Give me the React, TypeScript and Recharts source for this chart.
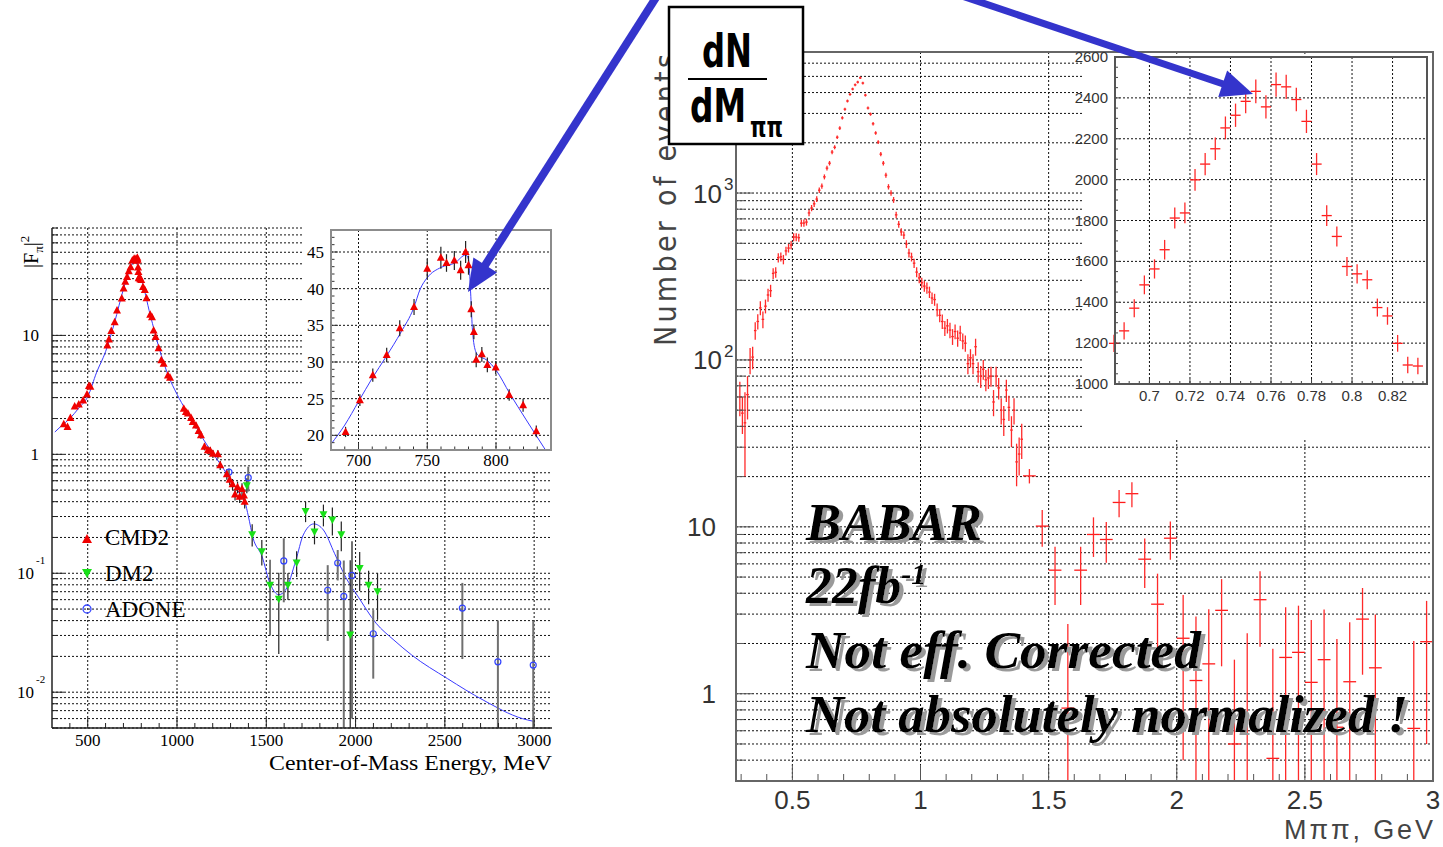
import React from "react";
import { ComposedChart, CartesianGrid, XAxis, YAxis, Line, Scatter, ErrorBar } from "recharts";

const SERIF = "'Liberation Serif', 'Times New Roman', serif";
const SANS = "'Liberation Sans', Arial, sans-serif";
const NARROW = "'Liberation Sans Narrow', 'DejaVu Sans Condensed', 'Liberation Sans', sans-serif";

// ---------- left panel: |F_pi|^2 vs energy (MeV) ----------
const cmd2E = [366, 387, 403, 427, 450, 474, 496, 507, 515, 610, 619, 632, 651, 664, 690.6, 701, 710.4, 720.5, 730, 740.4, 750, 759.9, 764, 769.7, 774.3, 777.9, 780, 782, 783.9, 785.6, 789.7, 793.7, 799.8, 809.6, 819.7, 829.3, 850, 860, 869, 880, 897, 912, 925, 949, 961, 1038, 1050, 1061, 1079, 1088, 1106, 1121, 1134, 1154, 1173, 1186, 1201, 1229, 1242, 1279, 1295, 1311, 1325, 1339, 1351, 1364, 1375, 1379];
const cmd2F = [1.79, 1.7, 2.02, 2.53, 2.62, 2.84, 3.19, 3.75, 3.7, 8.24, 9.25, 10.9, 12.9, 16.2, 20.46, 24.8, 28.2, 30.95, 34.6, 37.5, 42.7, 44.2, 43.5, 43.85, 42.5, 45.0, 43.2, 37.2, 34.1, 30.3, 31.05, 29.6, 29.25, 25.5, 24.1, 20.55, 14.9, 14.2, 11.0, 9.7, 7.8, 6.17, 5.78, 4.61, 4.4, 2.42, 2.27, 2.2, 2.02, 1.87, 1.75, 1.57, 1.45, 1.16, 1.08, 1.07, 1.01, 1.0, 0.81, 0.68, 0.61, 0.56, 0.46, 0.53, 0.44, 0.51, 0.45, 0.4];
const cmd2Err = [0.06, 0.06, 0.07, 0.08, 0.08, 0.09, 0.1, 0.12, 0.12, 0.3, 0.3, 0.35, 0.4, 0.5, 0.7, 0.8, 0.9, 1.0, 1.1, 1.1, 1.3, 1.5, 1.2, 1.3, 1.3, 1.5, 1.3, 1.1, 1.0, 1.0, 1.0, 1.0, 0.9, 0.8, 0.9, 0.8, 0.5, 0.5, 0.4, 0.35, 0.3, 0.25, 0.25, 0.2, 0.2, 0.1, 0.1, 0.1, 0.1, 0.1, 0.1, 0.1, 0.1, 0.08, 0.08, 0.08, 0.08, 0.08, 0.07, 0.07, 0.06, 0.06, 0.05, 0.06, 0.05, 0.06, 0.05, 0.05];

const dm2E = [1391, 1421, 1475, 1521, 1570, 1621, 1670, 1720, 1770, 1820, 1870, 1920, 1970, 2023, 2073, 2123];
const dm2F = [0.55, 0.213, 0.153, 0.08, 0.061, 0.08, 0.123, 0.334, 0.225, 0.313, 0.283, 0.213, 0.0305, 0.111, 0.08, 0.0706];
const dm2Err = [0.08, 0.045, 0.037, 0.05, 0.04, 0.02, 0.03, 0.065, 0.05, 0.065, 0.075, 0.06, 0.098, 0.04, 0.025, 0.03];

const adoneE = [1291, 1399, 1598, 1844, 1900, 1934, 1980, 2099, 2598, 2797, 2995];
const adoneF = [0.71, 0.637, 0.127, 0.072, 0.122, 0.064, 0.096, 0.031, 0.051, 0.018, 0.0169];
const adoneErr = [0.05, 0.15, 0.07, 0.045, 0.035, 0.064, 0.09, 0.018, 0.032, 0.022, 0.023];

const fitE = [316, 350, 400, 450, 500, 550, 600, 650, 700, 740, 760, 778, 782, 788, 800, 850, 900, 950, 1000, 1050, 1100, 1150, 1200, 1250, 1300, 1350, 1380, 1400, 1425, 1475, 1521, 1570, 1607, 1666, 1707, 1766, 1820, 1883, 1944, 2016, 2115, 2215, 2315, 2515, 2714, 2934, 2994];
const fitF = [1.54, 1.72, 2.0, 2.45, 3.05, 4.9, 7.3, 12.8, 24.5, 37.3, 42.9, 44.6, 35, 30.9, 28.9, 14.9, 7.8, 4.65, 3.2, 2.35, 1.78, 1.32, 1.02, 0.8, 0.61, 0.47, 0.4, 0.3, 0.2, 0.14, 0.082, 0.066, 0.072, 0.129, 0.21, 0.26, 0.231, 0.146, 0.093, 0.063, 0.038, 0.0274, 0.0205, 0.013, 0.0086, 0.006, 0.0057];

// fit curve as read inside the rho-omega inset
const fitZoomE = [680, 690, 700, 710, 720, 731, 740, 745, 750, 760, 770, 778, 780, 781.7, 782.9, 785.3, 787.2, 793, 800, 810, 822, 836];
const fitZoomF = [18.8, 21.4, 24.6, 27.8, 30.7, 34.1, 37.3, 40.0, 41.5, 42.9, 43.5, 44.6, 44.0, 38.9, 34.3, 31.4, 30.9, 30.3, 28.9, 25.7, 22.1, 18.0];

const leftXTicks = [400, 500, 600, 700, 800, 900, 1000, 1100, 1200, 1300, 1400, 1500, 1600, 1700, 1800, 1900, 2000, 2100, 2200, 2300, 2400, 2500, 2600, 2700, 2800, 2900, 3000];
const leftXLabels = [{ v: 500, t: "500" }, { v: 1000, t: "1000" }, { v: 1500, t: "1500" }, { v: 2000, t: "2000" }, { v: 2500, t: "2500" }, { v: 3000, t: "3000" }];
const leftYTicks = [0.005, 0.006, 0.007, 0.008, 0.009, 0.01, 0.02, 0.03, 0.04, 0.05, 0.06, 0.07, 0.08, 0.09, 0.1, 0.2, 0.3, 0.4, 0.5, 0.6, 0.7, 0.8, 0.9, 1, 2, 3, 4, 5, 6, 7, 8, 9, 10, 20, 30, 40, 50, 60, 70, 80];
const leftYLabels = [{ v: 0.01, t: "10", e: "-2" }, { v: 0.1, t: "10", e: "-1" }, { v: 1, t: "1" }, { v: 10, t: "10" }];

const insetXTicks = [690, 700, 710, 720, 730, 740, 750, 760, 770, 780, 790, 800, 810, 820, 830];
const insetXLabels = [{ v: 700, t: "700" }, { v: 750, t: "750" }, { v: 800, t: "800" }];
const insetYTicks = [19, 20, 21, 22, 23, 24, 25, 26, 27, 28, 29, 30, 31, 32, 33, 34, 35, 36, 37, 38, 39, 40, 41, 42, 43, 44, 45, 46, 47];
const insetYLabels = [{ v: 20, t: "20" }, { v: 25, t: "25" }, { v: 30, t: "30" }, { v: 35, t: "35" }, { v: 40, t: "40" }, { v: 45, t: "45" }];

// ---------- right panel: BABAR M(pipi) spectrum (GeV) ----------
const fineM = [0.295, 0.305, 0.315, 0.325, 0.335, 0.345, 0.355, 0.365, 0.375, 0.385, 0.395, 0.405, 0.415, 0.425, 0.435, 0.445, 0.455, 0.465, 0.475, 0.485, 0.495, 0.505, 0.515, 0.525, 0.535, 0.545, 0.555, 0.565, 0.575, 0.585, 0.595, 0.605, 0.615, 0.625, 0.635, 0.645, 0.655, 0.665, 0.675, 0.685, 0.695, 0.705, 0.715, 0.725, 0.735, 0.745, 0.755, 0.765, 0.775, 0.785, 0.795, 0.805, 0.815, 0.825, 0.835, 0.845, 0.855, 0.865, 0.875, 0.885, 0.895, 0.905, 0.915, 0.925, 0.935, 0.945, 0.955, 0.965, 0.975, 0.985, 0.995, 1.005, 1.015, 1.025, 1.035, 1.045, 1.055, 1.065, 1.075, 1.085, 1.095, 1.105, 1.115, 1.125, 1.135, 1.145, 1.155, 1.165, 1.175, 1.185, 1.195, 1.205, 1.215, 1.225, 1.235, 1.245, 1.255, 1.265, 1.275, 1.285, 1.295, 1.305, 1.315, 1.325, 1.335, 1.345, 1.355, 1.365, 1.375, 1.385, 1.395];
const fineN = [60, 48, 42, 62, 100, 104, 150, 170, 205, 175, 210, 245, 260, 330, 335, 410, 415, 400, 450, 468, 488, 545, 545, 540, 660, 661, 670, 760, 813, 862, 920, 1040, 1100, 1250, 1410, 1510, 1760, 1880, 2160, 2450, 2820, 3180, 3560, 3900, 4200, 4450, 4620, 4900, 4560, 3860, 3230, 2970, 2600, 2290, 2020, 1710, 1510, 1280, 1090, 1000, 910, 740, 650, 585, 560, 495, 437, 414, 380, 336, 310, 290, 277, 270, 255, 235, 230, 200, 185, 170, 155, 160, 151, 138, 148, 135, 145, 130, 126, 95, 103, 95, 120, 85, 80, 88, 76, 78, 80, 56, 80, 68, 50, 44, 66, 52, 38, 50, 24.5, 27.3, 33.5];
const fineErr = [14, 12, 22, 18, 18, 16, 18, 18, 20, 20, 20, 22, 22, 24, 24, 26, 26, 26, 27, 28, 28, 30, 30, 30, 32, 32, 32, 34, 35, 36, 37, 40, 40, 43, 45, 47, 50, 52, 55, 60, 64, 68, 72, 75, 78, 80, 82, 85, 82, 75, 68, 66, 62, 58, 55, 50, 47, 43, 40, 38, 37, 33, 31, 30, 29, 27, 26, 25, 24, 23, 22, 21, 21, 21, 20, 19, 19, 18, 17, 17, 16, 16, 16, 15, 15, 15, 15, 14, 14, 13, 13, 13, 14, 12, 12, 12, 11, 11, 11, 10, 11, 10, 9, 9, 10, 9, 8, 9, 7, 7, 8];

const wideM = [1.425, 1.475, 1.525, 1.575, 1.625, 1.675, 1.725, 1.775, 1.825, 1.875, 1.925, 1.975, 2.025, 2.075, 2.125, 2.175, 2.225, 2.275, 2.325, 2.375, 2.425, 2.475, 2.525, 2.575, 2.625, 2.675, 2.725, 2.775, 2.925, 2.975];
const wideN = [20.2, 10.1, 5.5, 0.82, 5.5, 9.0, 8.4, 14.0, 15.8, 6.4, 3.44, 8.55, 2.15, 1.2, 1.51, 3.16, 0.5, 0.7, 3.66, 0.41, 1.65, 1.77, 1.17, 1.6, 0.63, 1.18, 2.8, 1.43, 0.62, 2.05];
const wideErr = [2.0, 2.5, 2.1, 1.8, 2.1, 2.4, 2.3, 2.6, 2.7, 2.1, 1.8, 2.2, 1.75, 1.7, 1.7, 1.7, 1.1, 1.6, 1.75, 1.45, 1.65, 1.6, 1.6, 1.6, 1.5, 1.5, 1.5, 1.55, 1.45, 1.55];

// 5 MeV bins around the peak (inset)
const zoomM = [0.6825, 0.6875, 0.6925, 0.6975, 0.7025, 0.7075, 0.7125, 0.7175, 0.7225, 0.7275, 0.7325, 0.7375, 0.7425, 0.7475, 0.7525, 0.7575, 0.7625, 0.7675, 0.7725, 0.7775, 0.7825, 0.7875, 0.7925, 0.7975, 0.8025, 0.8075, 0.8125, 0.8175, 0.8225, 0.8275, 0.8325];
const zoomN = [1199, 1260, 1371, 1485, 1563, 1657, 1812, 1837, 1999, 2076, 2151, 2253, 2315, 2383, 2432, 2356, 2465, 2454, 2392, 2285, 2076, 1824, 1722, 1575, 1539, 1510, 1374, 1333, 1199, 1093, 1088];
const zoomErr = [42, 42, 44, 46, 47, 48, 51, 51, 53, 54, 55, 56, 57, 58, 58, 57, 59, 59, 58, 57, 54, 51, 49, 47, 47, 46, 44, 43, 41, 40, 40];

const rightXTicks = [0.3, 0.4, 0.5, 0.6, 0.7, 0.8, 0.9, 1, 1.1, 1.2, 1.3, 1.4, 1.5, 1.6, 1.7, 1.8, 1.9, 2, 2.1, 2.2, 2.3, 2.4, 2.5, 2.6, 2.7, 2.8, 2.9, 3];
const rightXLabels = [{ v: 0.5, t: "0.5" }, { v: 1, t: "1" }, { v: 1.5, t: "1.5" }, { v: 2, t: "2" }, { v: 2.5, t: "2.5" }, { v: 3, t: "3" }];
const rightYTicks = [0.3, 0.4, 0.5, 0.6, 0.7, 0.8, 0.9, 1, 2, 3, 4, 5, 6, 7, 8, 9, 10, 20, 30, 40, 50, 60, 70, 80, 90, 100, 200, 300, 400, 500, 600, 700, 800, 900, 1000, 2000, 3000, 4000, 5000, 6000, 7000];
const rightYLabels = [{ v: 1, t: "1" }, { v: 10, t: "10" }, { v: 100, t: "10", e: "2" }, { v: 1000, t: "10", e: "3" }];

const zoomXTicks = [0.685, 0.69, 0.695, 0.7, 0.705, 0.71, 0.715, 0.72, 0.725, 0.73, 0.735, 0.74, 0.745, 0.75, 0.755, 0.76, 0.765, 0.77, 0.775, 0.78, 0.785, 0.79, 0.795, 0.8, 0.805, 0.81, 0.815, 0.82, 0.825, 0.83, 0.835];
const zoomXLabels = [{ v: 0.7, t: "0.7" }, { v: 0.72, t: "0.72" }, { v: 0.74, t: "0.74" }, { v: 0.76, t: "0.76" }, { v: 0.78, t: "0.78" }, { v: 0.8, t: "0.8" }, { v: 0.82, t: "0.82" }];
const zoomYTicks = [1000, 1050, 1100, 1150, 1200, 1250, 1300, 1350, 1400, 1450, 1500, 1550, 1600, 1650, 1700, 1750, 1800, 1850, 1900, 1950, 2000, 2050, 2100, 2150, 2200, 2250, 2300, 2350, 2400, 2450, 2500, 2550, 2600];
const zoomYLabels = [1000, 1200, 1400, 1600, 1800, 2000, 2200, 2400, 2600].map((v) => ({ v, t: String(v) }));

// ---------- point builders (lower error clamped at the axis floor for log axes) ----------
const pts = (xs: number[], ys: number[], es: number[], floor: number) =>
  xs.map((x, i) => ({ x, y: ys[i], ey: [Math.min(es[i], ys[i] - floor), es[i]] }));
const bins = (xs: number[], ys: number[], es: number[], half: number, floor: number) =>
  xs.map((x, i) => ({ x, y: ys[i], ex: half, ey: [Math.min(es[i], ys[i] - floor), es[i]] }));
const curve = (xs: number[], ys: number[]) => xs.map((x, i) => ({ x, y: ys[i] }));

const cmd2 = pts(cmd2E, cmd2F, cmd2Err, 0.005);
const cmd2Zoom = cmd2.filter((p) => p.x >= 680 && p.x <= 840);
const dm2 = pts(dm2E, dm2F, dm2Err, 0.005);
const adone = pts(adoneE, adoneF, adoneErr, 0.005);
const fitMain = curve(fitE, fitF);
const fitZoom = curve(fitZoomE, fitZoomF);
const babarFine = bins(fineM, fineN, fineErr, 0.005, 0.3);
const babarWide = bins(wideM, wideN, wideErr, 0.025, 0.3);
const babarZoom = bins(zoomM, zoomN, zoomErr, 0.0025, 1000);

// ---------- ROOT-like axis ticks ----------
type Lab = { v: number; t: string; e?: string };
const same = (a: number, b: number) => Math.abs(a - b) < 1e-9 * Math.max(1, Math.abs(b));

function yTick(labels: Lab[], s: any) {
  return (p: any) => {
    const { x, y, payload } = p;
    const lab = labels.find((l) => same(l.v, payload.value));
    const len = lab ? s.major : s.minor;
    const txt = { fontFamily: s.font, fontSize: s.size, fill: s.fill };
    return (
      <g>
        <line x1={x} y1={y} x2={x + len} y2={y} stroke={s.line} strokeWidth={1} />
        {lab && !lab.e && (
          <text x={x - s.gap} y={y + s.base} textAnchor="end" {...txt}>{lab.t}</text>
        )}
        {lab && lab.e && (
          <g>
            <text x={x - s.expGap} y={y + s.base} textAnchor="end" {...txt}>{lab.t}</text>
            <text x={x - s.expGap + s.supDx} y={y + s.supDy} fontFamily={s.font} fontSize={s.supSize} fill={s.fill}>{lab.e}</text>
          </g>
        )}
      </g>
    );
  };
}

function xTick(labels: Lab[], s: any) {
  return (p: any) => {
    const { x, y, payload } = p;
    const lab = labels.find((l) => same(l.v, payload.value));
    const len = lab ? s.major : s.minor;
    return (
      <g>
        <line x1={x} y1={y} x2={x} y2={y - len} stroke={s.line} strokeWidth={1} />
        {lab && (
          <text x={x} y={y + s.base} textAnchor="middle" fontFamily={s.font} fontSize={s.size} fill={s.fill}>{lab.t}</text>
        )}
      </g>
    );
  };
}

const leftYStyle = { font: SERIF, size: 17, fill: "#000", line: "#222", major: 12, minor: 6, gap: 13, base: 5.5, expGap: 18, supSize: 11, supDx: 2, supDy: -9 };
const leftXStyle = { font: SERIF, size: 17, fill: "#000", line: "#222", major: 10, minor: 5, base: 18 };
const insetYStyle = { font: SERIF, size: 17, fill: "#000", line: "#333", major: 7, minor: 3.5, gap: 7, base: 6 };
const insetXStyle = { font: SERIF, size: 17, fill: "#000", line: "#333", major: 7, minor: 3.5, base: 16 };
const rightYStyle = { font: SANS, size: 26, fill: "#333", line: "#555", major: 16, minor: 8, gap: 20, base: 9.5, expGap: 14, supSize: 17, supDx: 2, supDy: -3 };
const rightXStyle = { font: SANS, size: 26, fill: "#333", line: "#555", major: 16, minor: 7, base: 28 };
const zoomYStyle = { font: SANS, size: 15, fill: "#333", line: "#444", major: 5, minor: 3, gap: 7, base: 5 };
const zoomXStyle = { font: SANS, size: 15, fill: "#333", line: "#444", major: 5, minor: 3, base: 17 };

// ---------- markers ----------
const triUp = (p: any) => (
  <polygon points={`${p.cx},${p.cy - 4.5} ${p.cx - 4},${p.cy + 3} ${p.cx + 4},${p.cy + 3}`} fill="#f00000" />
);
const triDown = (p: any) => (
  <polygon points={`${p.cx},${p.cy + 4.5} ${p.cx - 4},${p.cy - 3} ${p.cx + 4},${p.cy - 3}`} fill="#18e018" />
);
const ring = (p: any) => <circle cx={p.cx} cy={p.cy} r={3} fill="none" stroke="#3344ff" strokeWidth={1.2} />;
const noMark = () => <g />;

const GRID = { stroke: "#111", strokeDasharray: "2 2", strokeWidth: 1 };
const noAxisTick = { tickSize: 0, tickMargin: 0, tickLine: false, interval: 0 as const };

function Arrow({ x1, y1, x2, y2, w }: { x1: number; y1: number; x2: number; y2: number; w: number }) {
  const L = Math.hypot(x2 - x1, y2 - y1);
  const ux = (x2 - x1) / L;
  const uy = (y2 - y1) / L;
  const hl = 32;
  const hw = 14;
  const bx = x2 - ux * hl;
  const by = y2 - uy * hl;
  const c = "#3434cc";
  return (
    <g>
      <line x1={x1} y1={y1} x2={bx + ux * 3} y2={by + uy * 3} stroke={c} strokeWidth={w} />
      <polygon points={`${x2},${y2} ${bx - uy * hw},${by + ux * hw} ${bx + uy * hw},${by - ux * hw}`} fill={c} />
    </g>
  );
}

const babarLines = [
  { t: "Not eff. Corrected", y: 668, len: 395 },
  { t: "Not absolutely normalized !", y: 732, len: 602 },
];

export default function App() {
  return (
    <div style={{ position: "absolute", left: 0, top: 0, width: 1443, height: 847, background: "#fff", overflow: "hidden" }}>
      {/* left main plot */}
      <div style={{ position: "absolute", left: 0, top: 215 }}>
        <ComposedChart width={575} height={570} margin={{ top: 13, right: 23, bottom: 0, left: 0 }}>
          <CartesianGrid {...GRID} verticalValues={leftXLabels.map((l) => l.v)} horizontalValues={leftYTicks} />
          <XAxis type="number" dataKey="x" domain={[300, 3100]} allowDataOverflow ticks={leftXTicks} height={57} {...noAxisTick}
            axisLine={{ stroke: "#222", strokeWidth: 1.5 }} tick={xTick(leftXLabels, leftXStyle)} />
          <YAxis type="number" dataKey="y" scale="log" domain={[0.005, 80]} allowDataOverflow ticks={leftYTicks} width={52} {...noAxisTick}
            axisLine={{ stroke: "#222", strokeWidth: 1.5 }} tick={yTick(leftYLabels, leftYStyle)} />
          <Line data={fitMain} dataKey="y" type="monotone" stroke="#3a3aff" strokeWidth={1} dot={false} isAnimationActive={false} />
          <Scatter data={adone} dataKey="y" shape={ring} isAnimationActive={false}>
            <ErrorBar dataKey="ey" direction="y" width={0} stroke="#707070" strokeWidth={2} />
          </Scatter>
          <Scatter data={dm2} dataKey="y" shape={triDown} isAnimationActive={false}>
            <ErrorBar dataKey="ey" direction="y" width={0} stroke="#222" strokeWidth={1.2} />
          </Scatter>
          <Scatter data={cmd2} dataKey="y" shape={triUp} isAnimationActive={false}>
            <ErrorBar dataKey="ey" direction="y" width={0} stroke="#222" strokeWidth={1.2} />
          </Scatter>
        </ComposedChart>
      </div>

      {/* left inset */}
      <div style={{ position: "absolute", left: 303, top: 224, width: 251, height: 246, background: "#fff" }} />
      <div style={{ position: "absolute", left: 300, top: 224 }}>
        <ComposedChart width={255} height={250} margin={{ top: 6, right: 4, bottom: 0, left: 0 }}>
          <CartesianGrid {...GRID} verticalValues={insetXLabels.map((l) => l.v)} horizontalValues={insetYLabels.map((l) => l.v)} />
          <XAxis type="number" dataKey="x" domain={[680, 840]} allowDataOverflow ticks={insetXTicks} height={24} {...noAxisTick}
            axisLine={false} tick={xTick(insetXLabels, insetXStyle)} />
          <YAxis type="number" dataKey="y" domain={[18, 48]} allowDataOverflow ticks={insetYTicks} width={31} {...noAxisTick}
            axisLine={false} tick={yTick(insetYLabels, insetYStyle)} />
          <Line data={fitZoom} dataKey="y" type="monotone" stroke="#3a3aff" strokeWidth={1} dot={false} isAnimationActive={false} />
          <Scatter data={cmd2Zoom} dataKey="y" shape={triUp} isAnimationActive={false}>
            <ErrorBar dataKey="ey" direction="y" width={0} stroke="#222" strokeWidth={1.2} />
          </Scatter>
        </ComposedChart>
      </div>
      <div style={{ position: "absolute", left: 330, top: 229, width: 222, height: 222, border: "2.5px solid #8c8c8c", boxSizing: "border-box" }} />

      {/* right main plot */}
      <div style={{ position: "absolute", left: 640, top: 20 }}>
        <ComposedChart width={810} height={827} margin={{ top: 32, right: 17, bottom: 0, left: 0 }}>
          <CartesianGrid {...GRID} verticalValues={[0.5, 1, 1.5, 2, 2.5]} horizontalValues={rightYTicks} />
          <XAxis type="number" dataKey="x" domain={[0.28, 3.0]} allowDataOverflow ticks={rightXTicks} height={66} {...noAxisTick}
            axisLine={false} tick={xTick(rightXLabels, rightXStyle)} />
          <YAxis type="number" dataKey="y" scale="log" domain={[0.3, 7000]} allowDataOverflow ticks={rightYTicks} width={96} {...noAxisTick}
            axisLine={false} tick={yTick(rightYLabels, rightYStyle)} />
          <Scatter data={babarFine} dataKey="y" shape={noMark} isAnimationActive={false}>
            <ErrorBar dataKey="ex" direction="x" width={0} stroke="#ff1a1a" strokeWidth={1.3} />
            <ErrorBar dataKey="ey" direction="y" width={0} stroke="#ff2a2a" strokeWidth={1.3} />
          </Scatter>
          <Scatter data={babarWide} dataKey="y" shape={noMark} isAnimationActive={false}>
            <ErrorBar dataKey="ex" direction="x" width={0} stroke="#ff1a1a" strokeWidth={1.3} />
            <ErrorBar dataKey="ey" direction="y" width={0} stroke="#ff2a2a" strokeWidth={1.3} />
          </Scatter>
        </ComposedChart>
      </div>
      <div style={{ position: "absolute", left: 735, top: 51, width: 699, height: 731, border: "2px solid #666", boxSizing: "border-box" }} />

      {/* right inset */}
      <div style={{ position: "absolute", left: 1083, top: 54, width: 349, height: 384, background: "#fff" }} />
      <div style={{ position: "absolute", left: 1060, top: 40 }}>
        <ComposedChart width={373} height={370} margin={{ top: 17, right: 6, bottom: 0, left: 0 }}>
          <CartesianGrid {...GRID} verticalValues={[0.7, 0.72, 0.74, 0.76, 0.78, 0.8, 0.82]} horizontalValues={[1200, 1400, 1600, 1800, 2000, 2200, 2400]} />
          <XAxis type="number" dataKey="x" domain={[0.683, 0.837]} allowDataOverflow ticks={zoomXTicks} height={26} {...noAxisTick}
            axisLine={false} tick={xTick(zoomXLabels, zoomXStyle)} />
          <YAxis type="number" dataKey="y" domain={[1000, 2600]} allowDataOverflow ticks={zoomYTicks} width={55} {...noAxisTick}
            axisLine={false} tick={yTick(zoomYLabels, zoomYStyle)} />
          <Scatter data={babarZoom} dataKey="y" shape={noMark} isAnimationActive={false}>
            <ErrorBar dataKey="ex" direction="x" width={0} stroke="#ff1a1a" strokeWidth={1.3} />
            <ErrorBar dataKey="ey" direction="y" width={0} stroke="#ff2a2a" strokeWidth={1.3} />
          </Scatter>
        </ComposedChart>
      </div>
      <div style={{ position: "absolute", left: 1114, top: 56, width: 314, height: 329, border: "2px solid #555", boxSizing: "border-box" }} />

      {/* titles, legend, slide annotations */}
      <svg width={1443} height={847} style={{ position: "absolute", left: 0, top: 0 }}>
        <defs>
          <filter id="shadow" x="-5%" y="-20%" width="115%" height="150%">
            <feDropShadow dx="4" dy="3" stdDeviation="0.6" floodColor="#9a9a9a" floodOpacity="1" />
          </filter>
        </defs>
        <text transform="rotate(-90 38 268)" x={38} y={268} fontFamily={SERIF} fontSize={20}>
          |F<tspan fontSize={13} dy={5}>π</tspan>
          <tspan dy={-5}>|</tspan>
          <tspan fontSize={13} dy={-9}>2</tspan>
        </text>
        <text x={552} y={770} textAnchor="end" fontFamily={SERIF} fontSize={21} textLength={283} lengthAdjust="spacingAndGlyphs">
          Center-of-Mass Energy, MeV
        </text>

        <polygon points="87,534 82,543 92,543" fill="#f00000" />
        <text x={105} y={545} fontFamily={SERIF} fontSize={23}>CMD2</text>
        <polygon points="87,578 82,569 92,569" fill="#18e018" />
        <text x={105} y={581} fontFamily={SERIF} fontSize={23}>DM2</text>
        <circle cx={87} cy={609} r={4} fill="none" stroke="#3344ff" strokeWidth={1.3} />
        <text x={105} y={617} fontFamily={SERIF} fontSize={23}>ADONE</text>

        <text transform="rotate(-90 676 346)" x={676} y={346} fontFamily={NARROW} fontSize={30} fill="#444" textLength={292} lengthAdjust="spacing">
          Number of events
        </text>
        <text x={1433} y={839} textAnchor="end" fontFamily={SANS} fontSize={27} fill="#444" textLength={149} lengthAdjust="spacing">Mππ, GeV</text>

        <rect x={669} y={7} width={134} height={137} fill="#fff" stroke="#000" strokeWidth={2.5} />
        <g fontFamily={NARROW} fontWeight="bold" fill="#000">
          <text x={702} y={67} fontSize={46} textLength={50} lengthAdjust="spacingAndGlyphs">dN</text>
          <line x1={688} y1={79} x2={767} y2={79} stroke="#000" strokeWidth={2} />
          <text x={690} y={122} fontSize={46}>
            <tspan textLength={56} lengthAdjust="spacingAndGlyphs">dM</tspan>
            <tspan x={750} dy={15} fontSize={28} textLength={33} lengthAdjust="spacingAndGlyphs">ππ</tspan>
          </text>
        </g>

        <g fontFamily={SERIF} fontWeight="bold" fontStyle="italic" fontSize={52} fill="#000" filter="url(#shadow)">
          <text x={806} y={540} textLength={176} lengthAdjust="spacingAndGlyphs">BABAR</text>
          <text x={806} y={603}>22fb<tspan fontSize={30} dy={-19}>-1</tspan></text>
          {babarLines.map((l) => (
            <text key={l.t} x={806} y={l.y} textLength={l.len} lengthAdjust="spacingAndGlyphs">{l.t}</text>
          ))}
        </g>

        <Arrow x1={657} y1={-4} x2={468} y2={292} w={8} />
        <Arrow x1={962} y1={-4} x2={1253} y2={94} w={7} />
      </svg>
    </div>
  );
}
